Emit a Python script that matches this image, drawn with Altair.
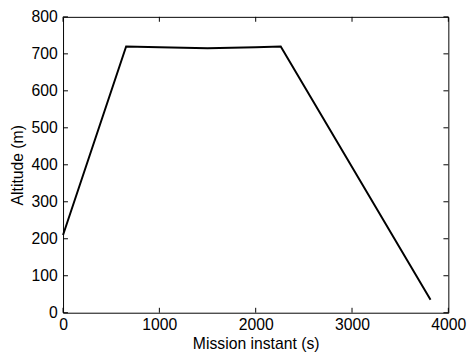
import altair as alt
import pandas as pd

mission_instant = [0, 655, 1000, 1500, 2000, 2260, 3815]
altitude = [210, 720, 718, 715, 718, 720, 35]

x_ticks = [0, 1000, 2000, 3000, 4000]
y_ticks = [0, 100, 200, 300, 400, 500, 600, 700, 800]

df = pd.DataFrame({"t": mission_instant, "alt": altitude})
W, H = 392, 301
FONT = "Liberation Sans"
FS = 16

xs = alt.Scale(domain=[0, 4000], nice=False)
ys = alt.Scale(domain=[0, 800], nice=False)

xaxis = alt.Axis(values=x_ticks, ticks=False, domain=False, grid=False,
                 labelPadding=4, titlePadding=3, format="d",
                 labelOverlap=False, labelFlush=False)
yaxis = alt.Axis(values=y_ticks, ticks=False, domain=False, grid=False,
                 labelPadding=6, titlePadding=6, format="d",
                 labelOverlap=False, labelFlush=False)

line = alt.Chart(df).mark_line(color="black", strokeWidth=2).encode(
    x=alt.X("t:Q", scale=xs, title="Mission instant (s)", axis=xaxis),
    y=alt.Y("alt:Q", scale=ys, title="Altitude (m)", axis=yaxis),
)

xt = pd.DataFrame({"v": x_ticks})
yt = pd.DataFrame({"v": y_ticks})
xb = alt.Chart(xt).mark_rule(color="black", strokeWidth=1).encode(
    x=alt.X("v:Q", scale=xs, axis=xaxis), y=alt.value(H), y2=alt.value(H - 5))
xtop = alt.Chart(xt).mark_rule(color="black", strokeWidth=1).encode(
    x=alt.X("v:Q", scale=xs, axis=xaxis), y=alt.value(0), y2=alt.value(5))
yl = alt.Chart(yt).mark_rule(color="black", strokeWidth=1).encode(
    y=alt.Y("v:Q", scale=ys, axis=yaxis), x=alt.value(0), x2=alt.value(5))
yr = alt.Chart(yt).mark_rule(color="black", strokeWidth=1).encode(
    y=alt.Y("v:Q", scale=ys, axis=yaxis), x=alt.value(W - 5), x2=alt.value(W))

chart = alt.layer(line, xb, xtop, yl, yr).properties(
    width=W, height=H,
    background="white",
    autosize=alt.AutoSizeParams(type="none"),
    padding={"left": 56, "top": 6, "right": 20, "bottom": 40},
).configure_view(stroke="black", strokeWidth=1).configure_axis(
    labelFont=FONT, titleFont=FONT, labelFontSize=FS, titleFontSize=FS,
    labelColor="black", titleColor="black", titleFontWeight="normal",
)

chart.save("out.html", embed_options={"renderer": "svg", "actions": False})
